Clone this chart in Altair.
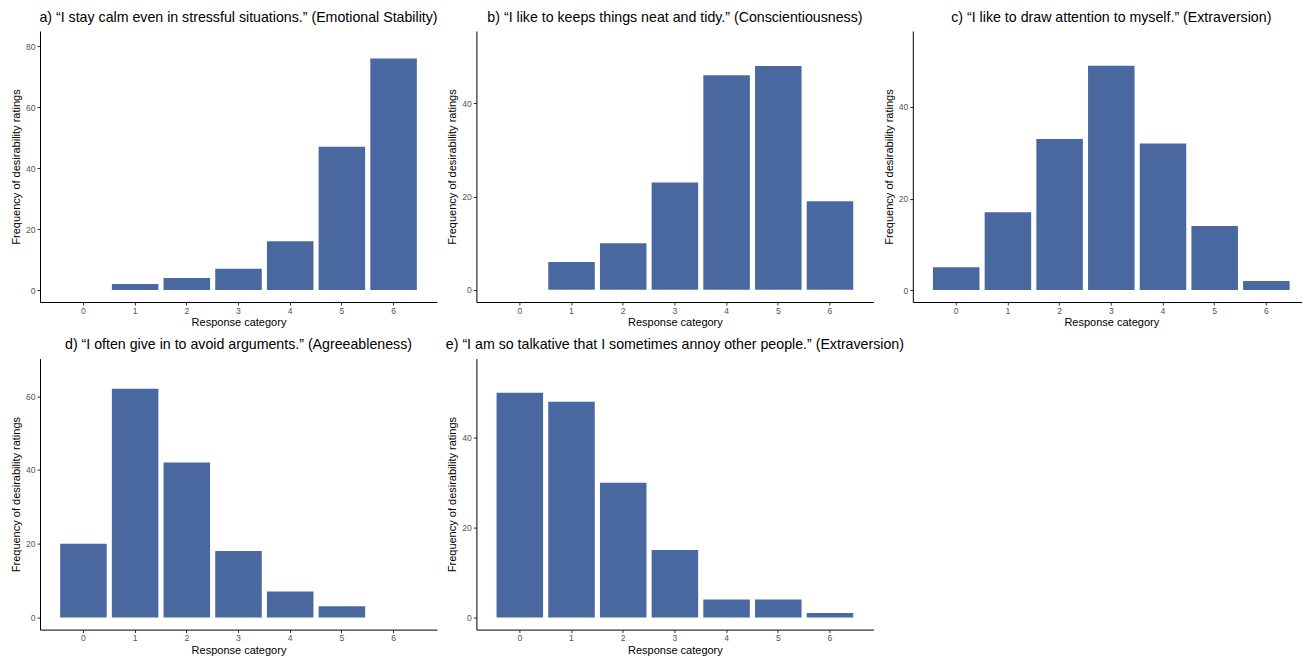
import altair as alt
import pandas as pd

categories = [0, 1, 2, 3, 4, 5, 6]

titles = [
    "a) \u201cI stay calm even in stressful situations.\u201d (Emotional Stability)",
    "b) \u201cI like to keeps things neat and tidy.\u201d (Conscientiousness)",
    "c) \u201cI like to draw attention to myself.\u201d (Extraversion)",
    "d) \u201cI often give in to avoid arguments.\u201d (Agreeableness)",
    "e) \u201cI am so talkative that I sometimes annoy other people.\u201d (Extraversion)",
]

values_a = [0, 2, 4, 7, 16, 47, 76]
values_b = [0, 6, 10, 23, 46, 48, 19]
values_c = [5, 17, 33, 49, 32, 14, 2]
values_d = [20, 62, 42, 18, 7, 3, 0]
values_e = [50, 48, 30, 15, 4, 4, 1]

y_domains = [[-3.9, 85.0], [-2.6, 55.5], [-2.6, 56.6], [-3.3, 70.2], [-2.7, 57.6]]
y_ticks = [[0, 20, 40, 60, 80], [0, 20, 40], [0, 20, 40], [0, 20, 40, 60], [0, 20, 40]]

FONT = "Liberation Sans"
BAR = "#4A68A0"


def panel(title, vals, dom, ticks):
    df = pd.DataFrame({"cat": categories, "n": vals})
    return (
        alt.Chart(df)
        .mark_bar(color=BAR)
        .encode(
            x=alt.X(
                "cat:O",
                scale=alt.Scale(paddingInner=0.1, paddingOuter=0.39),
                axis=alt.Axis(title="Response category", labelAngle=0, labelPadding=1, titlePadding=2),
            ),
            y=alt.Y(
                "n:Q",
                scale=alt.Scale(domain=dom, nice=False, zero=False),
                axis=alt.Axis(values=ticks, title="Frequency of desirability ratings", labelPadding=2, titlePadding=4),
            ),
            y2=alt.datum(0),
        )
        .properties(
            width=397,
            height=271,
            title=alt.TitleParams(title, fontSize=14.2, font=FONT, fontWeight="normal", color="black", anchor="middle", offset=6),
        )
    )


panels = [
    panel(titles[0], values_a, y_domains[0], y_ticks[0]),
    panel(titles[1], values_b, y_domains[1], y_ticks[1]),
    panel(titles[2], values_c, y_domains[2], y_ticks[2]),
    panel(titles[3], values_d, y_domains[3], y_ticks[3]),
    panel(titles[4], values_e, y_domains[4], y_ticks[4]),
]

chart = (
    alt.concat(*panels, columns=3, spacing={"row": 56.6, "column": 39.4}, bounds="flush")
    .properties(padding={"left": 2, "top": 2, "right": -8, "bottom": 0})
    .configure_view(stroke=None)
    .configure_axis(
        grid=False,
        domainColor="black",
        domainWidth=1,
        tickColor="#333333",
        tickSize=3,
        tickWidth=1,
        labelColor="#555555",
        labelFontSize=8.6,
        labelFont=FONT,
        titleFont=FONT,
        titleFontSize=11,
        titleFontWeight="normal",
        titleColor="black",
    )
)

chart.save("out.html", embed_options={"renderer": "svg", "actions": False})
